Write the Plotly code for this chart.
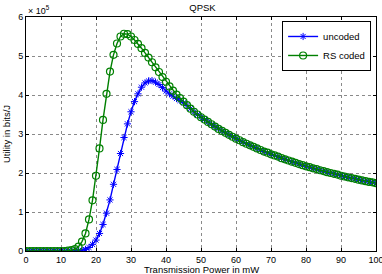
import plotly.graph_objects as go

power_mw = list(range(0, 101))

uncoded = [
    0, 0, 0, 0, 0, 0, 0, 0, 0, 0,
    0, 0, 0, 0, 0, 0.01, 0.02, 0.04, 0.09, 0.17,
    0.28, 0.45, 0.68, 0.97, 1.31, 1.71, 2.09, 2.50, 2.91, 3.26,
    3.57, 3.83, 4.03, 4.20, 4.31, 4.36, 4.37, 4.33, 4.27, 4.19,
    4.10, 4.03, 3.97, 3.91, 3.86, 3.80, 3.73, 3.65, 3.57, 3.50,
    3.43, 3.37, 3.31, 3.25, 3.19, 3.13, 3.08, 3.03, 2.98, 2.93,
    2.88, 2.84, 2.79, 2.75, 2.71, 2.67, 2.63, 2.59, 2.55, 2.52,
    2.48, 2.45, 2.42, 2.38, 2.35, 2.32, 2.29, 2.26, 2.23, 2.20,
    2.17, 2.15, 2.12, 2.10, 2.07, 2.05, 2.02, 2.00, 1.98, 1.96,
    1.93, 1.91, 1.89, 1.87, 1.85, 1.83, 1.81, 1.79, 1.77, 1.76,
    1.74,
]

rs_coded = [
    0, 0, 0, 0, 0, 0, 0, 0, 0, 0,
    0, 0, 0.01, 0.02, 0.05, 0.11, 0.24, 0.45, 0.81, 1.30,
    1.93, 2.63, 3.36, 4.03, 4.60, 5.03, 5.32, 5.50, 5.57, 5.56,
    5.50, 5.41, 5.31, 5.20, 5.08, 4.96, 4.84, 4.71, 4.59, 4.46,
    4.34, 4.22, 4.11, 4.01, 3.92, 3.83, 3.74, 3.65, 3.57, 3.50,
    3.43, 3.37, 3.31, 3.25, 3.19, 3.13, 3.08, 3.03, 2.98, 2.93,
    2.88, 2.84, 2.79, 2.75, 2.71, 2.67, 2.63, 2.59, 2.55, 2.52,
    2.48, 2.45, 2.42, 2.38, 2.35, 2.32, 2.29, 2.26, 2.23, 2.20,
    2.17, 2.15, 2.12, 2.10, 2.07, 2.05, 2.02, 2.00, 1.98, 1.96,
    1.93, 1.91, 1.89, 1.87, 1.85, 1.83, 1.81, 1.79, 1.77, 1.76,
    1.74,
]

x_ticks = [0, 10, 20, 30, 40, 50, 60, 70, 80, 90, 100]
y_ticks = [0, 1, 2, 3, 4, 5, 6]

FONT = "Liberation Sans, Arial, sans-serif"

fig = go.Figure()
fig.add_trace(go.Scatter(
    x=power_mw, y=uncoded, name="uncoded", mode="lines+markers",
    line=dict(color="#0000ff", width=1.4),
    marker=dict(symbol="asterisk-open", size=6, color="#0000ff",
                line=dict(color="#0000ff", width=1)),
))
fig.add_trace(go.Scatter(
    x=power_mw, y=rs_coded, name="RS coded", mode="lines+markers",
    line=dict(color="#008000", width=1.4),
    marker=dict(symbol="circle-open", size=7, color="#008000",
                line=dict(color="#008000", width=1.2)),
))

axis_common = dict(
    showline=True, linecolor="black", linewidth=1, mirror="ticks",
    ticks="inside", ticklen=3, tickcolor="black",
    showgrid=True, gridcolor="#8a8a8a", griddash="dot", gridwidth=1,
    zeroline=False, tickfont=dict(family=FONT, size=9, color="black"),
    automargin=False, ticklabeloverflow="allow",
)

fig.update_layout(
    width=382, height=274,
    margin=dict(l=26, r=6, t=17, b=23),
    paper_bgcolor="white", plot_bgcolor="white",
    font=dict(family=FONT, size=9.5, color="black"),
    title=dict(text="QPSK", x=0.53, xanchor="center", y=0.985, yanchor="top",
               font=dict(family=FONT, size=9.5, color="black")),
    xaxis=dict(range=[0, 100], tickvals=x_ticks, ticklabelstandoff=0,
               **axis_common),
    yaxis=dict(range=[0, 6], tickvals=y_ticks,
               title=dict(text="Utility in bits/J", standoff=5,
                          font=dict(family=FONT, size=9.5)),
               **axis_common),
    legend=dict(x=0.986, y=0.983, xanchor="right", yanchor="top",
                bgcolor="white", bordercolor="black", borderwidth=1,
                font=dict(family=FONT, size=9.5),
                tracegroupgap=0, itemwidth=30),
    showlegend=True,
)

fig.add_annotation(
    text="Transmission Power in mW", xref="paper", yref="paper",
    x=0.5, y=-23 / 234, xanchor="center", yanchor="bottom", showarrow=False,
    font=dict(family=FONT, size=9.5, color="black"), yshift=-1.5, borderpad=0,
)

fig.add_annotation(
    text="× 10<sup>5</sup>", xref="paper", yref="paper", x=0, y=1,
    xanchor="left", yanchor="bottom", showarrow=False,
    font=dict(family=FONT, size=9, color="black"), yshift=-1,
)

fig.write_html("out.html")
